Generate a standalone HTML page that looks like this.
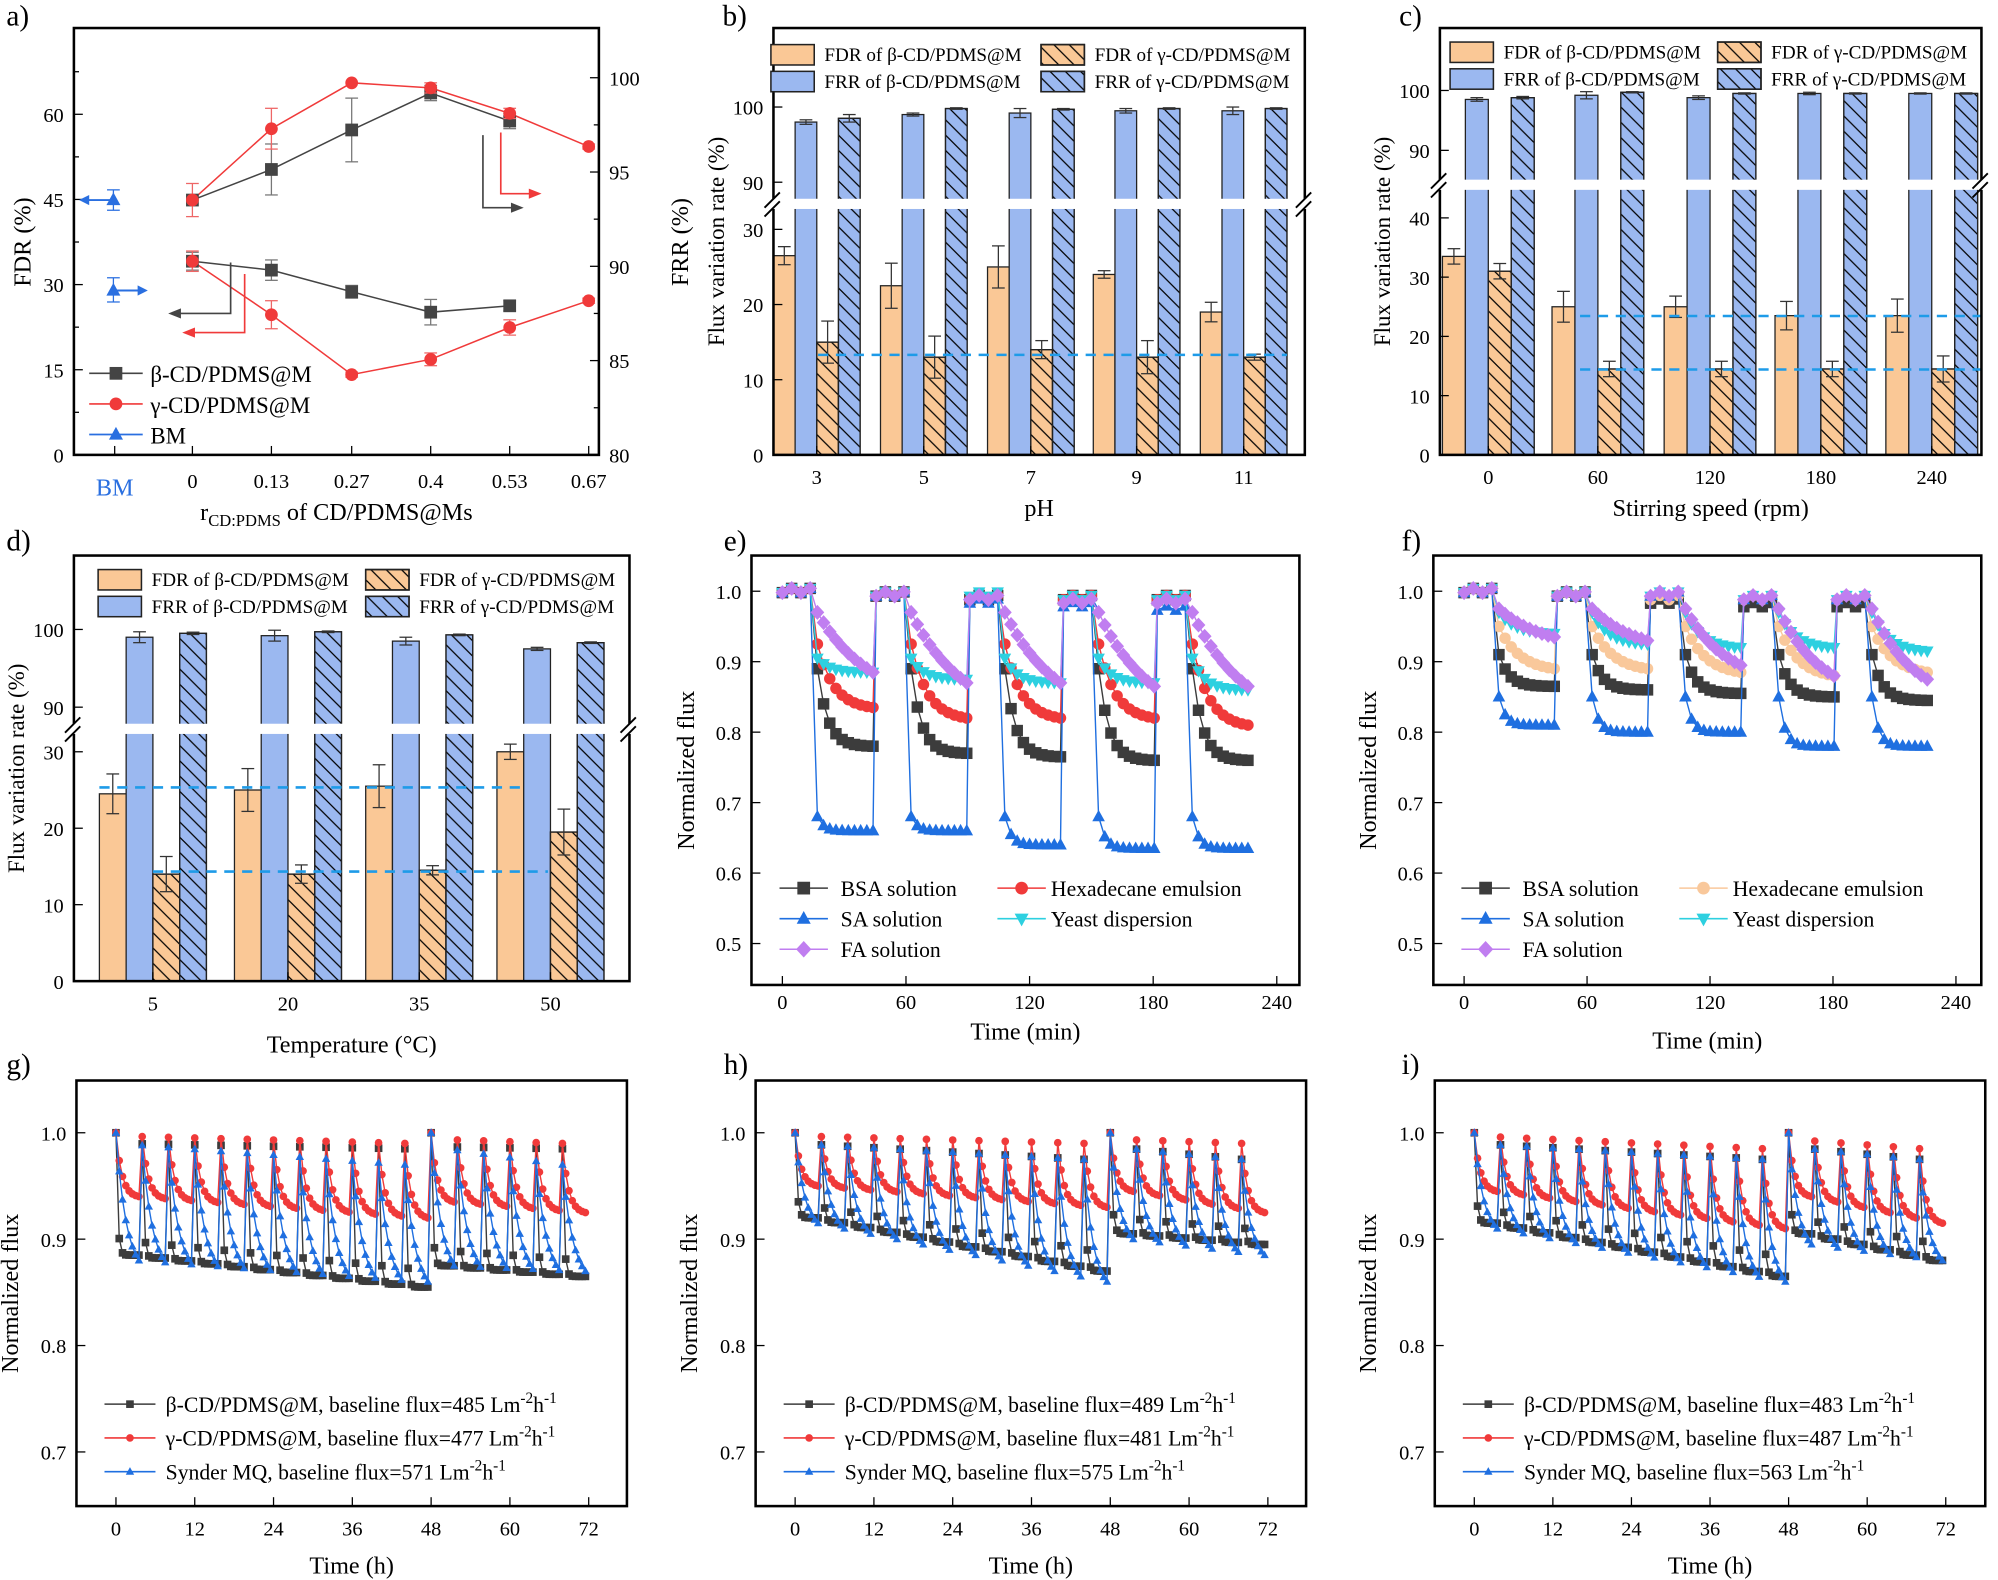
<!DOCTYPE html>
<html><head><meta charset="utf-8"><style>
html,body{margin:0;padding:0;background:#fff}
svg{display:block}
text{font-family:"Liberation Serif",serif}
</style></head><body>
<svg id="s" xmlns="http://www.w3.org/2000/svg" width="1998" height="1580" viewBox="0 0 1568 1240" preserveAspectRatio="none">
<defs>
<pattern id="h" patternUnits="userSpaceOnUse" width="12" height="12">
<path d="M-3,-3 L15,15 M-3,9 L3,15 M9,-3 L15,3" stroke="#000" stroke-width="1"/>
</pattern>
</defs>
<rect width="1568" height="1240" fill="#fff"/>
</svg>
<script>
const NS='http://www.w3.org/2000/svg';const svg=document.getElementById('s');
function E(t,a,p){const e=document.createElementNS(NS,t);for(const k in a)e.setAttribute(k,a[k]);(p||svg).appendChild(e);return e;}
function T(x,y,s,o){o=o||{};const a={x:x,y:y,'font-size':o.fs||15,'text-anchor':o.a||'middle',fill:o.c||'#000'};if(o.r)a.transform='rotate(-90 '+x+' '+y+')';const e=E('text',a);e.innerHTML=s;return e;}
function L(x1,y1,x2,y2,c,w,d){const a={x1,y1,x2,y2,stroke:c||'#000','stroke-width':w||1};if(d)a['stroke-dasharray']=d;return E('line',a);}
const OR='#FAC896',BL='#9BB8F0';
function mk(t,x,y,c,s){s=s||4;
 if(t=='s')E('rect',{x:x-s,y:y-s,width:2*s,height:2*s,fill:c});
 else if(t=='o')E('circle',{cx:x,cy:y,r:s,fill:c});
 else if(t=='^')E('polygon',{points:`${x},${y-s*1.2} ${x-s*1.1},${y+s*0.8} ${x+s*1.1},${y+s*0.8}`,fill:c});
 else if(t=='v')E('polygon',{points:`${x},${y+s*1.2} ${x-s*1.1},${y-s*0.8} ${x+s*1.1},${y-s*0.8}`,fill:c});
 else if(t=='d')E('polygon',{points:`${x},${y-s*1.3} ${x-s*1.2},${y} ${x},${y+s*1.3} ${x+s*1.2},${y}`,fill:c});
}
function frame(x0,y0,x1,y1){E('rect',{x:x0,y:y0,width:x1-x0,height:y1-y0,fill:'none',stroke:'#000','stroke-width':2});}
function poly(pts,c,w){E('polyline',{points:pts.map(p=>p.join(',')).join(' '),fill:'none',stroke:c,'stroke-width':w||1.2});}
function eb(x,y1,y2,c){L(x,y1,x,y2,c||'#333');L(x-5,y1,x+5,y1,c||'#333');L(x-5,y2,x+5,y2,c||'#333');}
[['a)',5,20],['b)',567,20],['c)',1098,20],['d)',5,432],['e)',568,432],['f)',1100,432],['g)',5,843],['h)',568,843],['i)',1100,843]].forEach(p=>T(p[1],p[2],p[0],{fs:23,a:'start'}));

// ---------- panel a
(function(){
 const x0=58,x1=470,y0=22,y1=357;
 const yl=v=>357-v*4.455, yr=v=>357-(v-80)*14.8;
 [0,15,30,45,60].forEach(v=>{L(x0,yl(v),x0+7,yl(v));T(50,yl(v)+6,v,{fs:16,a:'end'});});
 for(let v=7.5;v<75;v+=15)L(x0,yl(v),x0+4,yl(v));
 [80,85,90,95,100].forEach(v=>{L(x1,yr(v),x1-7,yr(v));T(478,yr(v)+6,v,{fs:16,a:'start'});});
 for(let v=82.5;v<102;v+=5)L(x1,yr(v),x1-4,yr(v));
 const xs=[151,213,276,338,400,462],lab=['0','0.13','0.27','0.4','0.53','0.67'];
 xs.forEach((x,i)=>{L(x,y1,x,y1-7);T(x,383,lab[i],{fs:16});});L(90,y1,90,y1-7);
 T(90,389,'BM',{fs:19,c:'#2a6fe0'});
 T(264,408,'r<tspan font-size="13" dy="5">CD:PDMS</tspan><tspan dy="-5"> of CD/PDMS@Ms</tspan>',{fs:19});
 T(24,190,'FDR (%)',{fs:19,r:1});T(540,190,'FRR (%)',{fs:19,r:1});
 const bu=[157,133,102,73,95],ru=[157,101,65,69,89,115],bl=[205,212,229,245,240],rl=[205,247,294,282,257,236];
 const K='#444',R='#f03a3a',B='#2a6fe0';
 poly(bu.map((y,i)=>[xs[i],y]),K);poly(ru.map((y,i)=>[xs[i],y]),R);
 poly(bl.map((y,i)=>[xs[i],y]),K);poly(rl.map((y,i)=>[xs[i],y]),R);
 const be=[0,20,25,6,6],re=[13,16,0,4,4,2],ble=[7,8,5,10,4],rle=[8,11,2,5,6,2];
 bu.forEach((y,i)=>{if(be[i])eb(xs[i],y-be[i],y+be[i],'#777');mk('s',xs[i],y,K,5);});
 ru.forEach((y,i)=>{if(re[i])eb(xs[i],y-re[i],y+re[i],'#e66');mk('o',xs[i],y,R,5);});
 bl.forEach((y,i)=>{eb(xs[i],y-ble[i],y+ble[i],'#777');mk('s',xs[i],y,K,5);});
 rl.forEach((y,i)=>{eb(xs[i],y-rle[i],y+rle[i],'#e66');mk('o',xs[i],y,R,5);});
 eb(89,149,165,B);mk('^',89,157,B,5);eb(89,218,237,B);mk('^',89,228,B,5);
 L(89,157,66,157,B,1.5);E('polygon',{points:'62,157 70,153 70,161',fill:B});
 L(89,228,110,228,B,1.5);E('polygon',{points:'116,228 108,224 108,232',fill:B});
 poly([[379,106],[379,163],[402,163]],K,1.3);E('polygon',{points:'411,163 401,159 401,167',fill:K});
 poly([[393,104],[393,152],[416,152]],R,1.3);E('polygon',{points:'425,152 415,148 415,156',fill:R});
 poly([[181,206],[181,246],[140,246]],K,1.3);E('polygon',{points:'132,246 142,242 142,250',fill:K});
 poly([[192,215],[192,261],[151,261]],R,1.3);E('polygon',{points:'143,261 153,257 153,265',fill:R});
 [[K,'s','β-CD/PDMS@M',293],[R,'o','γ-CD/PDMS@M',317],[B,'^','BM',341]].forEach(l=>{L(70,l[3],112,l[3],l[0],1.3);mk(l[1],91,l[3],l[0],5);T(118,l[3]+7,l[2],{fs:18,a:'start'});});
 frame(x0,y0,x1,y1);
})();

// ---------- bar panels
function barPanel(o){
 const {x0,x1,y0,y1,lo,up,brk,ticks,labels,w,data,leg,dash,xt,xty,yt,ls,us}=o;
 ticks.forEach((t,i)=>{
  const d=data[i];
  const bars=[[t-2*w,lo(d[0]),OR,0,d[4]*ls],[t-w,up(d[1]),BL,0,d[5]*us],[t,lo(d[2]),OR,1,d[6]*ls],[t+w,up(d[3]),BL,1,d[7]*us]];
  bars.forEach(b=>{E('rect',{x:b[0],y:b[1],width:w,height:y1-b[1],fill:b[2],stroke:'#222','stroke-width':1});
   if(b[3])E('rect',{x:b[0],y:b[1],width:w,height:y1-b[1],fill:'url(#h)',stroke:'#222','stroke-width':1});});
  bars.forEach(b=>{eb(b[0]+w/2,b[1]-b[4],b[1]+b[4]);});
 });
 dash.forEach(d=>L(d[0],d[2],d[1],d[2],'#1E9BE8',2,'8,6'));
 frame(x0,y0,x1,y1);
 E('rect',{x:x0-4,y:brk-4,width:x1-x0+8,height:8,fill:'#fff'});
 L(x0-7,brk+3,x0+5,brk-9,'#000',1.5);L(x0-7,brk+10,x0+5,brk-2,'#000',1.5);
 L(x1-7,brk+3,x1+5,brk-9,'#000',1.5);L(x1-7,brk+10,x1+5,brk-2,'#000',1.5);
 yt[0].forEach(v=>{L(x0,lo(v),x0+7,lo(v));T(x0-8,lo(v)+6,v,{fs:16,a:'end'});});
 yt[1].forEach(v=>{L(x0,up(v),x0+7,up(v));T(x0-8,up(v)+6,v,{fs:16,a:'end'});});
 ticks.forEach((t,i)=>{L(t,y1,t,y1-7);T(t,y1+23,labels[i],{fs:16});});
 T((x0+x1)/2,xty,xt,{fs:19});
 T(x0-39,(y0+y1)/2,'Flux variation rate (%)',{fs:18,r:1});
 const L1=[['FDR of β-CD/PDMS@M',OR,0],['FDR of γ-CD/PDMS@M',OR,1],['FRR of β-CD/PDMS@M',BL,0],['FRR of γ-CD/PDMS@M',BL,1]];
 L1.forEach((l,i)=>{const cx=i%2?leg.c2:leg.c1,cy=leg.r[i>>1];
  E('rect',{x:cx,y:cy-8,width:34,height:16,fill:l[1],stroke:'#222','stroke-width':1.2});
  if(l[2])E('rect',{x:cx,y:cy-8,width:34,height:16,fill:'url(#h)',stroke:'#222','stroke-width':1.2});
  T(cx+42,cy+5,l[0],{fs:15,a:'start'});});
}
barPanel({x0:607,x1:1024,y0:22,y1:357,lo:v=>357-v*5.9,up:v=>143-(v-90)*5.9,ls:5.9,us:5.9,brk:160,ticks:[641,725,809,892,976],labels:['3','5','7','9','11'],w:17,
 data:[[26.5,98,15,98.5,1.2,0.3,2.8,0.5],[22.5,99,13,99.8,3,0.2,2.8,0.1],[25,99.2,14,99.7,2.8,0.6,1.2,0.1],[24,99.5,13,99.8,0.5,0.3,2.2,0.1],[19,99.5,13,99.8,1.3,0.5,0.4,0.1]],
 leg:{c1:605,c2:817,r:[43,64]},dash:[[642,1010,278.5]],xt:'pH',xty:405,yt:[[0,10,20,30],[90,100]]});
barPanel({x0:1130,x1:1555,y0:22,y1:357,lo:v=>357-v*4.65,up:v=>118-(v-90)*4.7,ls:4.65,us:4.7,brk:145,ticks:[1168,1254,1342,1429,1516],labels:['0','60','120','180','240'],w:18,
 data:[[33.5,98.5,31,98.8,1.3,0.3,1.3,0.2],[25,99.2,14.5,99.7,2.6,0.6,1.3,0.1],[25,98.8,14.5,99.5,1.8,0.3,1.3,0.1],[23.5,99.5,14.5,99.5,2.4,0.2,1.3,0.1],[23.5,99.5,14.5,99.5,2.8,0.1,2.2,0.1]],
 leg:{c1:1138,c2:1348,r:[41,62]},dash:[[1240,1555,248],[1240,1555,290]],xt:'Stirring speed (rpm)',xty:405,yt:[[0,10,20,30,40],[90,100]]});
barPanel({x0:58,x1:494,y0:436,y1:770,lo:v=>770-v*6,up:v=>555-(v-90)*6.1,ls:6,us:6.1,brk:572,ticks:[120,226,329,432],labels:['5','20','35','50'],w:21,
 data:[[24.5,99,14,99.5,2.6,0.7,2.3,0.15],[25,99.2,14,99.7,2.8,0.7,1.2,0.1],[25.5,98.5,14.5,99.3,2.8,0.5,0.6,0.1],[30,97.5,19.5,98.3,1,0.2,3,0.1]],
 leg:{c1:77,c2:287,r:[455,476]},dash:[[78,410,618],[120,430,684]],xt:'Temperature (°C)',xty:826,yt:[[0,10,20,30],[90,100]]});

function cycSeries(p,period,n,flatN,flatStep,fstart,fstep,fN,rec){
 const pts=[];
 for(let k=0;k<n;k++){const t0=k*period;const r=rec[k];
  for(let j=0;j<flatN;j++)pts.push([t0+j*flatStep,r+(j%2?0.004:-0.002)]);
  const st=p.s,en=p.e[k],tau=p.tau,D=(fN-1)*fstep;
  for(let j=0;j<fN;j++){const s=j*fstep;const v=en+(st-en)*(Math.exp(-s/tau)-Math.exp(-D/tau))/(1-Math.exp(-D/tau));pts.push([t0+fstart+s,v]);}
 }return pts;}
function linePanel(o){
 const {x0,x1,y0,y1,xf,yf,xt,yt,series,leg,ytitleX,xtitleY,xtitle,xlo}=o;
 series.forEach(s=>{const P=s.pts.map(p=>[xf(p[0]),yf(p[1])]);poly(P,s.c,1.1);P.forEach(p=>mk(s.m,p[0],p[1],s.c,s.sz));});
 frame(x0,y0,x1,y1);
 yt.forEach(v=>{L(x0,yf(v),x0+7,yf(v));T(x0-8,yf(v)+6,v.toFixed(1),{fs:16,a:'end'});});
 xt.forEach(v=>{L(xf(v),y1,xf(v),y1-7);T(xf(v),y1+(xlo||23),v,{fs:16});});
 T(ytitleX,(y0+y1)/2,'Normalized flux',{fs:19,r:1});
 T((x0+x1)/2,xtitleY,xtitle,{fs:19});
 leg.forEach(l=>{L(l.x,l.y,l.x+l.len,l.y,l.c,1.2);mk(l.m,l.x+l.len/2,l.y,l.c,l.sz||5);T(l.tx,l.y+6,l.t,{fs:l.fs||17,a:'start'});});
}
const K='#3c3c3c',R='#f03a3a',B='#1f6fe0',C='#2dd0e0',P='#c07ef0',OL='#f9c89b';
function ef(x0,xEnd,params,cols,titleY,hexC){
 const xf=t=>x0+t*(xEnd-x0)/240,yf=v=>464+(1-v)*553;
 const names=['BSA solution','Hexadecane emulsion','SA solution','Yeast dispersion','FA solution'],ms=['s','o','^','v','d'];
 const series=params.map((p,i)=>({c:cols[i],m:ms[i],sz:4.5,pts:cycSeries(p,45.5,5,4,4.5,17,3,10,p.rec)}));
 const bx=xf(-15);
 linePanel({x0:bx,x1:bx+430,y0:436,y1:773,xf,yf,xt:[0,60,120,180,240],yt:[0.5,0.6,0.7,0.8,0.9,1.0],series,xlo:19,
  ytitleX:bx-45,xtitleY:titleY,xtitle:'Time (min)',
  leg:[{x:bx+22,y:697,len:38,c:cols[0],m:'s',tx:bx+70,t:names[0]},{x:bx+193,y:697,len:38,c:cols[1],m:'o',tx:bx+235,t:names[1]},
   {x:bx+22,y:721,len:38,c:cols[2],m:'^',tx:bx+70,t:names[2]},{x:bx+193,y:721,len:38,c:cols[3],m:'v',tx:bx+235,t:names[3]},
   {x:bx+22,y:745,len:38,c:cols[4],m:'d',tx:bx+70,t:names[4]}]});
}
ef(614,1002,[
 {s:0.89,e:[0.78,0.77,0.765,0.76,0.76],tau:5,rec:[1.0,0.995,0.99,0.99,0.99]},
 {s:0.925,e:[0.835,0.82,0.82,0.82,0.81],tau:8,rec:[1.0,0.995,0.99,0.99,0.99]},
 {s:0.68,e:[0.66,0.66,0.64,0.635,0.635],tau:3,rec:[1.0,0.995,0.985,0.98,0.975]},
 {s:0.905,e:[0.885,0.875,0.87,0.87,0.86],tau:6,rec:[1.0,0.995,0.995,0.99,0.99]},
 {s:0.97,e:[0.885,0.87,0.87,0.865,0.865],tau:25,rec:[1.0,0.995,0.99,0.985,0.985]}],[K,R,B,C,P],816);
ef(1149,1535,[
 {s:0.91,e:[0.865,0.86,0.855,0.85,0.845],tau:5,rec:[1.0,0.995,0.985,0.98,0.98]},
 {s:0.95,e:[0.89,0.89,0.885,0.88,0.885],tau:10,rec:[1.0,0.995,0.99,0.99,0.99]},
 {s:0.85,e:[0.81,0.80,0.80,0.78,0.78],tau:3,rec:[1.0,0.995,0.995,0.99,0.99]},
 {s:0.97,e:[0.94,0.925,0.92,0.92,0.915],tau:8,rec:[1.0,0.995,0.995,0.99,0.99]},
 {s:0.975,e:[0.935,0.93,0.895,0.88,0.875],tau:20,rec:[1.0,0.995,0.995,0.99,0.99]}],[K,OL,B,C,P],823);

function lerp(a,b,n,k){return a+(b-a)*k/(n-1);}
function ghi(x0,xEnd,par,fluxes){
 const xf=t=>x0+t*(xEnd-x0)/72,yf=v=>889+(1-v)*835;
 const mks=['s','o','^'],cols=[K,R,B];
 const series=par.map((p,i)=>{const pts=[];
  for(let k=0;k<18;k++){const seg=k<12;const m=seg?lerp(p.m[0],p.m[1],12,k):lerp(p.m[2],p.m[3],6,k-12);
   const pk=(k==0||k==12)?1.0:(seg?lerp(p.pk[0],p.pk[1],12,k):lerp(p.pk[0]-0.003,p.pk[1],6,k-12));
   for(let j=0;j<8;j++){const s=j*0.5;const v=m+(pk-m)*(Math.exp(-s/p.tau)-Math.exp(-3.5/p.tau))/(1-Math.exp(-3.5/p.tau));pts.push([k*4+s,v]);}}
  return {c:cols[i],m:mks[i],sz:3,pts};});
 const bx=x0-31;
 const names=['β-CD/PDMS@M','γ-CD/PDMS@M','Synder MQ'];
 linePanel({x0:bx,x1:bx+432,y0:848,y1:1182,xf,yf,xt:[0,12,24,36,48,60,72],yt:[0.7,0.8,0.9,1.0],series,
  ytitleX:bx-46,xtitleY:1235,xtitle:'Time (h)',
  leg:names.map((n,i)=>({x:bx+22,y:1102+i*26.5,len:40,c:cols[i],m:mks[i],sz:3,tx:bx+70,fs:17,
   t:n+', baseline flux='+fluxes[i]+' Lm<tspan dy="-7" font-size="12">-2</tspan><tspan dy="7">h</tspan><tspan dy="-7" font-size="12">-1</tspan>'}))});
}
ghi(91,462,[{m:[0.885,0.855,0.875,0.865],pk:[0.99,0.985],tau:0.25},{m:[0.94,0.92,0.935,0.925],pk:[0.997,0.99],tau:0.9},{m:[0.88,0.86,0.875,0.87],pk:[0.99,0.97],tau:1.6}],[485,477,571]);
ghi(624,995,[{m:[0.92,0.87,0.905,0.895],pk:[0.99,0.975],tau:0.3},{m:[0.95,0.93,0.945,0.925],pk:[0.997,0.99],tau:0.9},{m:[0.915,0.86,0.9,0.885],pk:[0.99,0.975],tau:1.4}],[489,481,575]);
ghi(1157,1527,[{m:[0.915,0.865,0.905,0.88],pk:[0.99,0.975],tau:0.3},{m:[0.945,0.91,0.94,0.915],pk:[0.997,0.985],tau:0.9},{m:[0.91,0.86,0.895,0.88],pk:[0.99,0.975],tau:1.4}],[483,487,563]);
</script>
</body></html>
